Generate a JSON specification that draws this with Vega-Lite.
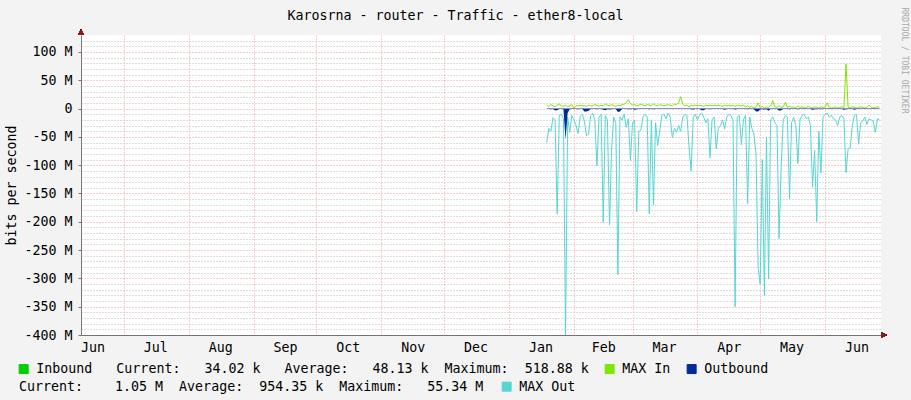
{
  "$schema": "https://vega.github.io/schema/vega-lite/v6.json",
  "width": 800,
  "height": 300,
  "autosize": "none",
  "padding": {"left": 81, "top": 35, "right": 30, "bottom": 65},
  "background": "#F3F3F3",
  "config": {"view": {"fill": "#FFFFFF", "stroke": null}, "font": "DejaVu Sans Mono"},
  "data": {"values": [
    {"date":"2014-01-19","inbound":0.05,"max_in":6,"outbound":-0.8,"max_out":-60},
    {"date":"2014-01-20","inbound":0.05,"max_in":4,"outbound":-0.8,"max_out":-35},
    {"date":"2014-01-21","inbound":0.05,"max_in":7,"outbound":-1,"max_out":-40},
    {"date":"2014-01-22","inbound":0.05,"max_in":5,"outbound":-0.8,"max_out":-16},
    {"date":"2014-01-23","inbound":0.05,"max_in":3,"outbound":-3.5,"max_out":-20},
    {"date":"2014-01-24","inbound":0.05,"max_in":6,"outbound":-3,"max_out":-186},
    {"date":"2014-01-25","inbound":0.05,"max_in":8,"outbound":-0.8,"max_out":-12},
    {"date":"2014-01-26","inbound":0.05,"max_in":5,"outbound":-0.6,"max_out":-10},
    {"date":"2014-01-27","inbound":0.05,"max_in":4,"outbound":-1,"max_out":-18},
    {"date":"2014-01-28","inbound":0.05,"max_in":6,"outbound":-55,"max_out":-405},
    {"date":"2014-01-29","inbound":0.05,"max_in":3,"outbound":-8,"max_out":-15},
    {"date":"2014-01-30","inbound":0.05,"max_in":5,"outbound":-1,"max_out":-42},
    {"date":"2014-01-31","inbound":0.05,"max_in":7,"outbound":-0.8,"max_out":-12},
    {"date":"2014-02-01","inbound":0.05,"max_in":1,"outbound":-0.6,"max_out":-20},
    {"date":"2014-02-02","inbound":0.05,"max_in":5,"outbound":-0.8,"max_out":-30},
    {"date":"2014-02-03","inbound":0.05,"max_in":5,"outbound":-1,"max_out":-44},
    {"date":"2014-02-04","inbound":0.05,"max_in":6,"outbound":-0.8,"max_out":-14},
    {"date":"2014-02-05","inbound":0.05,"max_in":5,"outbound":-0.7,"max_out":-10},
    {"date":"2014-02-06","inbound":0.05,"max_in":5,"outbound":-5,"max_out":-22},
    {"date":"2014-02-07","inbound":0.05,"max_in":4,"outbound":-5,"max_out":-48},
    {"date":"2014-02-08","inbound":0.05,"max_in":6,"outbound":-4,"max_out":-45},
    {"date":"2014-02-09","inbound":0.05,"max_in":5,"outbound":-0.8,"max_out":-12},
    {"date":"2014-02-10","inbound":0.05,"max_in":5,"outbound":-0.6,"max_out":-8},
    {"date":"2014-02-11","inbound":0.05,"max_in":7,"outbound":-0.8,"max_out":-20},
    {"date":"2014-02-12","inbound":0.05,"max_in":6,"outbound":-1.2,"max_out":-101},
    {"date":"2014-02-13","inbound":0.05,"max_in":4,"outbound":-0.8,"max_out":-15},
    {"date":"2014-02-14","inbound":0.05,"max_in":6,"outbound":-0.7,"max_out":-10},
    {"date":"2014-02-15","inbound":0.05,"max_in":5,"outbound":-2,"max_out":-201},
    {"date":"2014-02-16","inbound":0.05,"max_in":8,"outbound":-3,"max_out":-12},
    {"date":"2014-02-17","inbound":0.05,"max_in":6,"outbound":-1,"max_out":-20},
    {"date":"2014-02-18","inbound":0.05,"max_in":5,"outbound":-1.5,"max_out":-206},
    {"date":"2014-02-19","inbound":0.05,"max_in":7,"outbound":-1,"max_out":-71},
    {"date":"2014-02-20","inbound":0.05,"max_in":5,"outbound":-0.8,"max_out":-15},
    {"date":"2014-02-21","inbound":0.05,"max_in":4,"outbound":-0.8,"max_out":-25},
    {"date":"2014-02-22","inbound":0.05,"max_in":6,"outbound":-6,"max_out":-293},
    {"date":"2014-02-23","inbound":0.05,"max_in":5,"outbound":-5,"max_out":-15},
    {"date":"2014-02-24","inbound":0.05,"max_in":7,"outbound":-0.8,"max_out":-20},
    {"date":"2014-02-25","inbound":0.05,"max_in":8,"outbound":-0.7,"max_out":-10},
    {"date":"2014-02-26","inbound":0.05,"max_in":10,"outbound":-0.8,"max_out":-33},
    {"date":"2014-02-27","inbound":0.05,"max_in":16,"outbound":-1,"max_out":-18},
    {"date":"2014-02-28","inbound":0.05,"max_in":9,"outbound":-1.2,"max_out":-92},
    {"date":"2014-03-01","inbound":0.05,"max_in":6,"outbound":-0.8,"max_out":-25},
    {"date":"2014-03-02","inbound":0.05,"max_in":7,"outbound":-2,"max_out":-20},
    {"date":"2014-03-03","inbound":0.05,"max_in":5,"outbound":-1,"max_out":-182},
    {"date":"2014-03-04","inbound":0.05,"max_in":6,"outbound":-0.8,"max_out":-40},
    {"date":"2014-03-05","inbound":0.05,"max_in":8,"outbound":-0.8,"max_out":-38},
    {"date":"2014-03-06","inbound":0.05,"max_in":6,"outbound":-0.7,"max_out":-15},
    {"date":"2014-03-07","inbound":0.05,"max_in":5,"outbound":-0.6,"max_out":-10},
    {"date":"2014-03-08","inbound":0.05,"max_in":7,"outbound":-0.8,"max_out":-15},
    {"date":"2014-03-09","inbound":0.05,"max_in":6,"outbound":-1,"max_out":-186},
    {"date":"2014-03-10","inbound":0.05,"max_in":5,"outbound":-0.8,"max_out":-20},
    {"date":"2014-03-11","inbound":0.05,"max_in":8,"outbound":-1,"max_out":-170},
    {"date":"2014-03-12","inbound":0.05,"max_in":6,"outbound":-0.8,"max_out":-25},
    {"date":"2014-03-13","inbound":0.05,"max_in":5,"outbound":-0.8,"max_out":-65},
    {"date":"2014-03-14","inbound":0.05,"max_in":7,"outbound":-0.8,"max_out":-40},
    {"date":"2014-03-15","inbound":0.05,"max_in":6,"outbound":-0.6,"max_out":-12},
    {"date":"2014-03-16","inbound":0.05,"max_in":5,"outbound":-0.6,"max_out":-10},
    {"date":"2014-03-17","inbound":0.05,"max_in":6,"outbound":-0.7,"max_out":-18},
    {"date":"2014-03-18","inbound":0.05,"max_in":7,"outbound":-0.6,"max_out":-8},
    {"date":"2014-03-19","inbound":0.05,"max_in":6,"outbound":-0.8,"max_out":-15},
    {"date":"2014-03-20","inbound":0.05,"max_in":5,"outbound":-0.8,"max_out":-51},
    {"date":"2014-03-21","inbound":0.05,"max_in":8,"outbound":-0.8,"max_out":-35},
    {"date":"2014-03-22","inbound":0.05,"max_in":7,"outbound":-0.8,"max_out":-42},
    {"date":"2014-03-23","inbound":0.05,"max_in":10,"outbound":-0.7,"max_out":-30},
    {"date":"2014-03-24","inbound":0.05,"max_in":21,"outbound":-0.8,"max_out":-40},
    {"date":"2014-03-25","inbound":0.05,"max_in":8,"outbound":-0.7,"max_out":-15},
    {"date":"2014-03-26","inbound":0.05,"max_in":5,"outbound":-0.6,"max_out":-10},
    {"date":"2014-03-27","inbound":0.05,"max_in":6,"outbound":-0.6,"max_out":-12},
    {"date":"2014-03-28","inbound":0.05,"max_in":3,"outbound":-0.8,"max_out":-68},
    {"date":"2014-03-29","inbound":0.05,"max_in":6,"outbound":-1,"max_out":-110},
    {"date":"2014-03-30","inbound":0.05,"max_in":5,"outbound":-1.5,"max_out":-15},
    {"date":"2014-03-31","inbound":0.05,"max_in":6,"outbound":-0.7,"max_out":-10},
    {"date":"2014-04-01","inbound":0.05,"max_in":5,"outbound":-0.8,"max_out":-20},
    {"date":"2014-04-02","inbound":0.05,"max_in":6,"outbound":-0.7,"max_out":-12},
    {"date":"2014-04-03","inbound":0.05,"max_in":5,"outbound":-3,"max_out":-8},
    {"date":"2014-04-04","inbound":0.05,"max_in":4,"outbound":-3,"max_out":-15},
    {"date":"2014-04-05","inbound":0.05,"max_in":6,"outbound":-0.8,"max_out":-25},
    {"date":"2014-04-06","inbound":0.05,"max_in":5,"outbound":-0.8,"max_out":-18},
    {"date":"2014-04-07","inbound":0.05,"max_in":6,"outbound":-1,"max_out":-87},
    {"date":"2014-04-08","inbound":0.05,"max_in":5,"outbound":-0.8,"max_out":-20},
    {"date":"2014-04-09","inbound":0.05,"max_in":6,"outbound":-0.7,"max_out":-15},
    {"date":"2014-04-10","inbound":0.05,"max_in":5,"outbound":-0.8,"max_out":-71},
    {"date":"2014-04-11","inbound":0.05,"max_in":6,"outbound":-0.8,"max_out":-35},
    {"date":"2014-04-12","inbound":0.05,"max_in":5,"outbound":-0.8,"max_out":-30},
    {"date":"2014-04-13","inbound":0.05,"max_in":4,"outbound":-0.7,"max_out":-20},
    {"date":"2014-04-14","inbound":0.05,"max_in":6,"outbound":-2,"max_out":-36},
    {"date":"2014-04-15","inbound":0.05,"max_in":5,"outbound":-0.7,"max_out":-15},
    {"date":"2014-04-16","inbound":0.05,"max_in":6,"outbound":-0.6,"max_out":-10},
    {"date":"2014-04-17","inbound":0.05,"max_in":5,"outbound":-0.6,"max_out":-12},
    {"date":"2014-04-18","inbound":0.05,"max_in":6,"outbound":-0.8,"max_out":-20},
    {"date":"2014-04-19","inbound":0.05,"max_in":4,"outbound":-1.5,"max_out":-350},
    {"date":"2014-04-20","inbound":0.05,"max_in":6,"outbound":-0.8,"max_out":-15},
    {"date":"2014-04-21","inbound":0.05,"max_in":5,"outbound":-0.7,"max_out":-12},
    {"date":"2014-04-22","inbound":0.05,"max_in":5,"outbound":-0.8,"max_out":-64},
    {"date":"2014-04-23","inbound":0.05,"max_in":6,"outbound":-0.8,"max_out":-20},
    {"date":"2014-04-24","inbound":0.05,"max_in":3,"outbound":-0.7,"max_out":-12},
    {"date":"2014-04-25","inbound":0.05,"max_in":5,"outbound":-1,"max_out":-168},
    {"date":"2014-04-26","inbound":0.05,"max_in":2,"outbound":-0.8,"max_out":-15},
    {"date":"2014-04-27","inbound":0.05,"max_in":4,"outbound":-0.8,"max_out":-35},
    {"date":"2014-04-28","inbound":0.05,"max_in":1,"outbound":-1,"max_out":-45},
    {"date":"2014-04-29","inbound":0.05,"max_in":3,"outbound":-5,"max_out":-80},
    {"date":"2014-04-30","inbound":0.05,"max_in":10,"outbound":-5,"max_out":-281},
    {"date":"2014-05-01","inbound":0.05,"max_in":2,"outbound":-1.5,"max_out":-310},
    {"date":"2014-05-02","inbound":0.05,"max_in":4,"outbound":-1,"max_out":-90},
    {"date":"2014-05-03","inbound":0.05,"max_in":1,"outbound":-1.5,"max_out":-330},
    {"date":"2014-05-04","inbound":0.05,"max_in":3,"outbound":-1,"max_out":-50},
    {"date":"2014-05-05","inbound":0.05,"max_in":2,"outbound":-4,"max_out":-301},
    {"date":"2014-05-06","inbound":0.05,"max_in":5,"outbound":-0.8,"max_out":-20},
    {"date":"2014-05-07","inbound":0.05,"max_in":14,"outbound":-0.8,"max_out":-15},
    {"date":"2014-05-08","inbound":0.05,"max_in":3,"outbound":-0.8,"max_out":-25},
    {"date":"2014-05-09","inbound":0.05,"max_in":2,"outbound":-0.8,"max_out":-30},
    {"date":"2014-05-10","inbound":0.05,"max_in":5,"outbound":-4,"max_out":-230},
    {"date":"2014-05-11","inbound":0.05,"max_in":2,"outbound":-3,"max_out":-104},
    {"date":"2014-05-12","inbound":0.05,"max_in":3,"outbound":-0.8,"max_out":-20},
    {"date":"2014-05-13","inbound":0.05,"max_in":11,"outbound":-0.7,"max_out":-12},
    {"date":"2014-05-14","inbound":0.05,"max_in":2,"outbound":-0.7,"max_out":-15},
    {"date":"2014-05-15","inbound":0.05,"max_in":4,"outbound":-1,"max_out":-159},
    {"date":"2014-05-16","inbound":0.05,"max_in":2,"outbound":-0.8,"max_out":-25},
    {"date":"2014-05-17","inbound":0.05,"max_in":3,"outbound":-0.7,"max_out":-15},
    {"date":"2014-05-18","inbound":0.05,"max_in":1,"outbound":-0.8,"max_out":-30},
    {"date":"2014-05-19","inbound":0.05,"max_in":5,"outbound":-1,"max_out":-97},
    {"date":"2014-05-20","inbound":0.05,"max_in":2,"outbound":-0.8,"max_out":-20},
    {"date":"2014-05-21","inbound":0.05,"max_in":3,"outbound":-0.7,"max_out":-12},
    {"date":"2014-05-22","inbound":0.05,"max_in":1,"outbound":-0.6,"max_out":-10},
    {"date":"2014-05-23","inbound":0.05,"max_in":2,"outbound":-0.7,"max_out":-18},
    {"date":"2014-05-24","inbound":0.05,"max_in":4,"outbound":-0.7,"max_out":-15},
    {"date":"2014-05-25","inbound":0.05,"max_in":2,"outbound":-0.8,"max_out":-30},
    {"date":"2014-05-26","inbound":0.05,"max_in":1,"outbound":-2,"max_out":-139},
    {"date":"2014-05-27","inbound":0.05,"max_in":3,"outbound":-1,"max_out":-74},
    {"date":"2014-05-28","inbound":0.05,"max_in":2,"outbound":-1.2,"max_out":-200},
    {"date":"2014-05-29","inbound":0.05,"max_in":1,"outbound":-0.8,"max_out":-40},
    {"date":"2014-05-30","inbound":0.05,"max_in":3,"outbound":-1,"max_out":-114},
    {"date":"2014-05-31","inbound":0.05,"max_in":2,"outbound":-0.7,"max_out":-15},
    {"date":"2014-06-01","inbound":0.05,"max_in":3,"outbound":-0.6,"max_out":-10},
    {"date":"2014-06-02","inbound":0.05,"max_in":10,"outbound":-0.6,"max_out":-8},
    {"date":"2014-06-03","inbound":0.05,"max_in":2,"outbound":-0.7,"max_out":-15},
    {"date":"2014-06-04","inbound":0.05,"max_in":1,"outbound":-0.7,"max_out":-12},
    {"date":"2014-06-05","inbound":0.05,"max_in":2,"outbound":-0.7,"max_out":-18},
    {"date":"2014-06-06","inbound":0.05,"max_in":3,"outbound":-0.8,"max_out":-20},
    {"date":"2014-06-07","inbound":0.05,"max_in":1,"outbound":-0.8,"max_out":-30},
    {"date":"2014-06-08","inbound":0.05,"max_in":2,"outbound":-0.7,"max_out":-15},
    {"date":"2014-06-09","inbound":0.05,"max_in":3,"outbound":-0.7,"max_out":-12},
    {"date":"2014-06-10","inbound":0.05,"max_in":2,"outbound":-2,"max_out":-18},
    {"date":"2014-06-11","inbound":0.05,"max_in":79,"outbound":-1,"max_out":-113},
    {"date":"2014-06-12","inbound":0.05,"max_in":2,"outbound":-0.8,"max_out":-71},
    {"date":"2014-06-13","inbound":0.05,"max_in":1,"outbound":-0.8,"max_out":-70},
    {"date":"2014-06-14","inbound":0.05,"max_in":3,"outbound":-0.7,"max_out":-30},
    {"date":"2014-06-15","inbound":0.05,"max_in":2,"outbound":-2,"max_out":-12},
    {"date":"2014-06-16","inbound":0.05,"max_in":1,"outbound":-0.6,"max_out":-10},
    {"date":"2014-06-17","inbound":0.05,"max_in":2,"outbound":-0.8,"max_out":-63},
    {"date":"2014-06-18","inbound":0.05,"max_in":3,"outbound":-0.7,"max_out":-25},
    {"date":"2014-06-19","inbound":0.05,"max_in":2,"outbound":-0.7,"max_out":-22},
    {"date":"2014-06-20","inbound":0.05,"max_in":1,"outbound":-0.6,"max_out":-15},
    {"date":"2014-06-21","inbound":0.05,"max_in":2,"outbound":-0.7,"max_out":-28},
    {"date":"2014-06-22","inbound":0.05,"max_in":6,"outbound":-0.7,"max_out":-18},
    {"date":"2014-06-23","inbound":0.05,"max_in":2,"outbound":-0.7,"max_out":-20},
    {"date":"2014-06-24","inbound":0.05,"max_in":1,"outbound":-0.7,"max_out":-22},
    {"date":"2014-06-25","inbound":0.05,"max_in":2,"outbound":-0.8,"max_out":-42},
    {"date":"2014-06-26","inbound":0.05,"max_in":3,"outbound":-0.7,"max_out":-18},
    {"date":"2014-06-27","inbound":0.05,"max_in":2,"outbound":-0.7,"max_out":-20}
  ]},
  "resolve": {"scale": {"x": "shared", "y": "shared"}, "axis": {"x": "independent", "y": "independent"}},
  "layer": [
    {
      "mark": {"type": "area", "clip": true},
      "encoding": {
        "x": {"field": "date", "type": "temporal",
          "scale": {"type": "utc", "domain": [{"year": 2013, "month": 6, "date": 10, "hours": 12, "utc": true}, {"year": 2014, "month": 6, "date": 27, "hours": 17, "utc": true}]},
          "axis": {"orient": "bottom", "values": [
            {"year": 2013, "month": 7, "date": 1, "utc": true}, {"year": 2013, "month": 8, "date": 1, "utc": true},
            {"year": 2013, "month": 9, "date": 1, "utc": true}, {"year": 2013, "month": 10, "date": 1, "utc": true},
            {"year": 2013, "month": 11, "date": 1, "utc": true}, {"year": 2013, "month": 12, "date": 1, "utc": true},
            {"year": 2014, "month": 1, "date": 1, "utc": true}, {"year": 2014, "month": 2, "date": 1, "utc": true},
            {"year": 2014, "month": 3, "date": 1, "utc": true}, {"year": 2014, "month": 4, "date": 1, "utc": true},
            {"year": 2014, "month": 5, "date": 1, "utc": true}, {"year": 2014, "month": 6, "date": 1, "utc": true}],
            "grid": true, "gridColor": "#EE9A9A", "gridDash": [1, 2], "gridOpacity": 1,
            "labels": false, "ticks": false, "domain": false, "title": null}},
        "y": {"field": "inbound", "type": "quantitative", "stack": null,
          "scale": {"domain": [-400, 130], "nice": false, "zero": false},
          "axis": {"orient": "left", "values": [-390,-380,-370,-360,-340,-330,-320,-310,-290,-280,-270,-260,-240,-230,-220,-210,-190,-180,-170,-160,-140,-130,-120,-110,-90,-80,-70,-60,-40,-30,-20,-10,10,20,30,40,60,70,80,90,110,120],
            "grid": true, "gridColor": "#BDBDBD", "gridDash": [1, 2], "gridOpacity": 1,
            "labels": false, "ticks": false, "domain": false, "title": null}},
        "y2": {"datum": 0},
        "color": {"datum": "Inbound",
          "scale": {"domain": ["Inbound", "MAX In", "Outbound"], "range": ["#00CF00", "#7EE600", "#002A97"]},
          "legend": {
            "orient": "none", "legendX": -64, "legendY": 327, "direction": "horizontal", "title": null,
            "padding": 0, "symbolType": "square", "symbolSize": 81, "symbolStrokeWidth": 1,
            "labelFont": "DejaVu Sans Mono", "labelFontSize": 13.3, "labelColor": "#000000",
            "labelOffset": 6, "columnPadding": 14, "labelLimit": 2000,
            "labelExpr": "datum.label == 'Inbound' ? 'Inbound\u00a0\u00a0\u00a0Current:\u00a0\u00a0\u00a034.02\u00a0k\u00a0\u00a0\u00a0Average:\u00a0\u00a0\u00a048.13\u00a0k\u00a0\u00a0Maximum:\u00a0\u00a0518.88\u00a0k' : datum.label",
            "encode": {"symbols": {"update": {"fill": {"scale": "color", "field": "value"}, "stroke": {"value": "#000000"}, "strokeWidth": {"value": 1}, "opacity": {"value": 1}}}}
          }}
      }
    },
    {
      "mark": {"type": "line", "strokeWidth": 1, "clip": true},
      "encoding": {
        "x": {"field": "date", "type": "temporal",
          "scale": {"type": "utc", "domain": [{"year": 2013, "month": 6, "date": 10, "hours": 12, "utc": true}, {"year": 2014, "month": 6, "date": 27, "hours": 17, "utc": true}]},
          "axis": {"orient": "bottom", "values": [
            {"year": 2013, "month": 6, "date": 16, "utc": true}, {"year": 2013, "month": 7, "date": 16, "utc": true},
            {"year": 2013, "month": 8, "date": 16, "utc": true}, {"year": 2013, "month": 9, "date": 16, "utc": true},
            {"year": 2013, "month": 10, "date": 16, "utc": true}, {"year": 2013, "month": 11, "date": 16, "utc": true},
            {"year": 2013, "month": 12, "date": 16, "utc": true}, {"year": 2014, "month": 1, "date": 16, "utc": true},
            {"year": 2014, "month": 2, "date": 15, "utc": true}, {"year": 2014, "month": 3, "date": 16, "utc": true},
            {"year": 2014, "month": 4, "date": 16, "utc": true}, {"year": 2014, "month": 5, "date": 16, "utc": true},
            {"year": 2014, "month": 6, "date": 16, "utc": true}],
            "format": "%b", "labelAlign": "center", "labelFlush": false, "labelOverlap": false,
            "labelFont": "DejaVu Sans Mono", "labelFontSize": 13.3, "labelColor": "#000000", "labelPadding": 5,
            "grid": false, "ticks": false, "domain": true, "domainColor": "#7A6E6E", "domainWidth": 1, "title": null}},
        "y": {"field": "max_in", "type": "quantitative",
          "scale": {"domain": [-400, 130], "nice": false, "zero": false},
          "axis": {"orient": "left", "values": [-400, -350, -300, -250, -200, -150, -100, -50, 0, 50, 100],
            "grid": true, "gridColor": "#EE9A9A", "gridDash": [1, 2], "gridOpacity": 1,
            "labelExpr": "datum.value == 0 ? '0' : (datum.value < 0 ? '-' : '') + abs(datum.value) + ' M'",
            "labelFont": "DejaVu Sans Mono", "labelFontSize": 13.3, "labelColor": "#000000", "labelPadding": 6,
            "ticks": true, "tickSize": 3, "tickColor": "#777777", "domain": true, "domainColor": "#777777",
            "title": "bits per second", "titleFont": "DejaVu Sans Mono", "titleFontSize": 13.3, "titleFontWeight": "normal",
            "titleColor": "#000000", "titleAngle": -90, "titleX": -66, "titleY": 150, "titleAlign": "center", "titleBaseline": "alphabetic"}},
        "color": {"datum": "MAX In",
          "scale": {"domain": ["Inbound", "MAX In", "Outbound"], "range": ["#00CF00", "#7EE600", "#002A97"]}}
      }
    },
    {
      "mark": {"type": "line", "strokeWidth": 1, "clip": true},
      "encoding": {
        "x": {"field": "date", "type": "temporal",
          "scale": {"type": "utc", "domain": [{"year": 2013, "month": 6, "date": 10, "hours": 12, "utc": true}, {"year": 2014, "month": 6, "date": 27, "hours": 17, "utc": true}]},
          "axis": {"orient": "top", "labels": false, "ticks": false, "domain": false, "grid": false,
            "title": "Karosrna - router - Traffic - ether8-local", "titleX": 374, "titleY": -16,
            "titleAlign": "center", "titleBaseline": "alphabetic", "titleFont": "DejaVu Sans Mono",
            "titleFontSize": 13.3, "titleFontWeight": "normal", "titleColor": "#000000"}},
        "y": {"field": "max_out", "type": "quantitative",
          "scale": {"domain": [-400, 130], "nice": false, "zero": false},
          "axis": {"orient": "right", "labels": false, "ticks": false, "domain": false, "grid": false,
            "title": "RRDTOOL / TOBI OETIKER", "titleX": 22, "titleY": 25, "titleAngle": 90,
            "titleAlign": "center", "titleBaseline": "middle", "titleFont": "DejaVu Sans Mono",
            "titleFontSize": 8, "titleFontWeight": "normal", "titleColor": "#A8A8A8"}},
        "stroke": {"datum": "MAX Out",
          "scale": {"domain": ["MAX Out"], "range": ["#55D6D3"]},
          "legend": {
            "orient": "none", "legendX": -62, "legendY": 345, "direction": "horizontal",
            "padding": 0,
            "title": "Current:\u00a0\u00a0\u00a0\u00a01.05\u00a0M\u00a0\u00a0Average:\u00a0\u00a0954.35\u00a0k\u00a0\u00a0Maximum:\u00a0\u00a0\u00a055.34\u00a0M",
            "titleOrient": "left", "titleFont": "DejaVu Sans Mono", "titleFontSize": 13.3, "titleFontWeight": "normal",
            "titleColor": "#000000", "titlePadding": 16, "titleLimit": 2000, "titleBaseline": "top",
            "symbolType": "square", "symbolSize": 81, "symbolStrokeWidth": 1,
            "labelFont": "DejaVu Sans Mono", "labelFontSize": 13.3, "labelColor": "#000000", "labelOffset": 6, "labelLimit": 500,
            "encode": {
              "symbols": {"update": {"fill": {"value": "#55D6D3"}, "stroke": {"value": "#000000"}, "strokeWidth": {"value": 1}, "opacity": {"value": 1}}},
              "title": {"update": {"dy": {"value": -7}}}
            }
          }}
      }
    },
    {
      "mark": {"type": "area", "clip": true},
      "encoding": {
        "x": {"field": "date", "type": "temporal", "axis": null,
          "scale": {"type": "utc", "domain": [{"year": 2013, "month": 6, "date": 10, "hours": 12, "utc": true}, {"year": 2014, "month": 6, "date": 27, "hours": 17, "utc": true}]}},
        "y": {"field": "outbound", "type": "quantitative", "stack": null, "axis": null,
          "scale": {"domain": [-400, 130], "nice": false, "zero": false}},
        "y2": {"datum": 0},
        "color": {"datum": "Outbound",
          "scale": {"domain": ["Inbound", "MAX In", "Outbound"], "range": ["#00CF00", "#7EE600", "#002A97"]}}
      }
    },
    {
      "mark": {"type": "point", "shape": "triangle-right", "filled": true, "size": 30, "color": "#8B1A1A", "opacity": 1},
      "encoding": {
        "x": {"datum": {"year": 2014, "month": 6, "date": 29, "hours": 2, "utc": true}, "type": "temporal", "axis": null},
        "y": {"datum": -400, "type": "quantitative", "axis": null}
      }
    },
    {
      "mark": {"type": "point", "shape": "triangle-up", "filled": true, "size": 30, "color": "#8B1A1A", "opacity": 1},
      "encoding": {
        "x": {"datum": {"year": 2013, "month": 6, "date": 10, "hours": 12, "utc": true}, "type": "temporal", "axis": null},
        "y": {"datum": 135, "type": "quantitative", "axis": null}
      }
    }
  ]
}
